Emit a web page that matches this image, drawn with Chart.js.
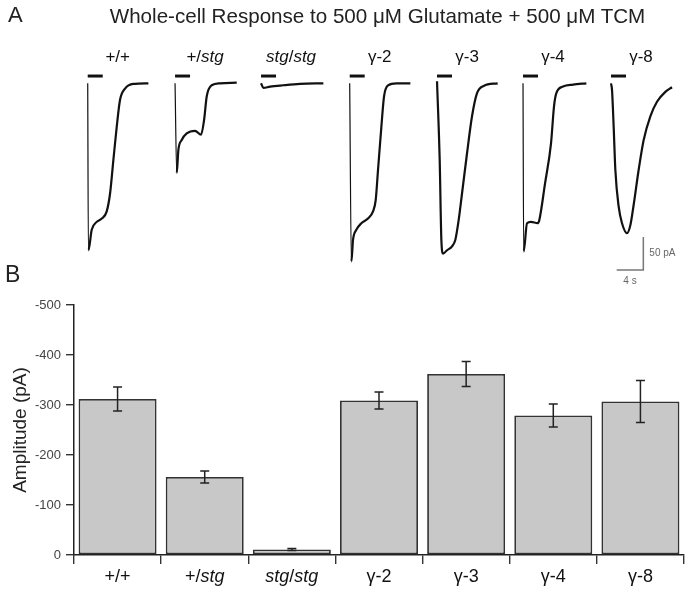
<!DOCTYPE html>
<html>
<head>
<meta charset="utf-8">
<script src="https://cdn.jsdelivr.net/npm/chart.js@4.4.1/dist/chart.umd.min.js"></script>
<style>
    body { margin: 0; background: #fff; }
    #wrap { position: relative; width: 693px; height: 593px; overflow: hidden; font-family: "Liberation Sans", Arial, sans-serif; color: #222; }
    #tracesChart { position: absolute; left: 0; top: 0; }
    #barChart { position: absolute; left: 0; top: 280px; }
    .panel { position: absolute; font-size: 22px; line-height: 22px; }
    #title { position: absolute; left: 0; top: 5px; width: 755px; text-align: center; font-size: 20.6px; line-height: 21px; white-space: nowrap; }
</style>
</head>
<body>
<div id="wrap">
    <canvas id="tracesChart" width="693" height="290"></canvas>
    <canvas id="barChart" width="693" height="313"></canvas>
    <div class="panel" style="left:8px; top:4px;">A</div>
    <div class="panel" style="left:5px; top:263px; font-size:23px; line-height:23px;">B</div>
    <div id="title">Whole-cell Response to 500 μM Glutamate + 500 μM TCM</div>
</div>
<script>
// Groups (same order in both panels)
const groups = ['+/+', '+/stg', 'stg/stg', 'γ-2', 'γ-3', 'γ-4', 'γ-8'];

// Panel B: mean amplitude (pA) and error
const amplitude = [-312, -156, -11, -309, -362, -279, -307];
const amplitudeErr = [24, 12, 2, 17, 25, 23, 42];

// Panel A: example traces, time (s) from onset and current (pA)
const traceOnsets = [0, 13.1, 26.0, 39.3, 52.4, 65.3, 78.5];
const traceTimes = [
    [0, 0.1, 0.6, 1.35, 2.1, 2.85, 3.35, 3.85, 4.35, 4.85, 5.6, 6.85, 9.1],
    [0, 0.25, 0.5, 1.0, 1.75, 3.0, 3.9, 4.35, 4.75, 5.5, 6.75, 9.25],
    [0, 0.35, 1.35, 3.35, 5.85, 9.35],
    [0, 0.25, 0.5, 1.0, 1.75, 2.75, 3.5, 3.9, 4.25, 4.75, 5.15, 5.75, 7.0, 9.1],
    [0, 0.4, 0.65, 0.9, 1.5, 2.25, 2.75, 3.25, 3.75, 4.5, 5.25, 6.0, 7.0, 9.1],
    [0, 0.1, 0.6, 1.2, 2.2, 2.45, 3.3, 4.2, 4.65, 5.0, 6.0, 7.5, 9.5],
    [0, 0.15, 0.4, 0.65, 1.15, 1.65, 2.4, 2.9, 3.4, 4.15, 4.9, 5.9, 6.9, 8.15, 9.15]
];
const traceCurrents = [
    [0, -253, -222, -210, -205, -194, -167, -116, -66, -25, -8, -1, 0],
    [0, -136, -101, -86, -76, -72, -78, -56, -20, -3, 0, 1],
    [0, -7, -5, -3, -1, 0],
    [0, -270, -237, -222, -212, -205, -194, -177, -131, -66, -20, -3, 0, 0],
    [3, -116, -237, -258, -253, -247, -237, -207, -167, -106, -50, -15, -4, 0],
    [0, -255, -212, -210, -212, -207, -152, -91, -35, -15, -5, -2, 0],
    [0, -10, -66, -131, -187, -212, -227, -215, -184, -131, -86, -50, -28, -13, -6]
];

// Drug application bar (s) and its level on the current axis (pA)
const puffLength = 2.25;
const puffLevel = 11;

// Scale bar: 4 s, 50 pA
const scaleBarTime = [79.35, 83.35];
const scaleBarCurrent = [-233, -283];

const FONT = '"Liberation Sans", Arial, sans-serif';

// draws a label with "stg" in italics, centred on x
function drawMixedLabel(ctx, text, x, y, size) {
    const parts = text.split(/(stg)/).filter(function(p) { return p.length > 0; });
    const fonts = parts.map(function(p) { return (p === 'stg' ? 'italic ' : '') + size + 'px ' + FONT; });
    let total = 0;
    parts.forEach(function(p, i) { ctx.font = fonts[i]; total += ctx.measureText(p).width; });
    let cx = x - total / 2;
    ctx.textAlign = 'left';
    ctx.textBaseline = 'alphabetic';
    parts.forEach(function(p, i) {
        ctx.font = fonts[i];
        ctx.fillText(p, cx, y);
        cx += ctx.measureText(p).width;
    });
}

// ---------- Panel A: traces ----------
const traceDatasets = traceTimes.map(function(times, i) {
    return {
        data: times.map(function(t, j) { return { x: traceOnsets[i] + t, y: traceCurrents[i][j] }; }),
        borderColor: '#111',
        borderWidth: 2.2,
        pointRadius: 0,
        cubicInterpolationMode: 'monotone',
        segment: {
            // very fast onsets are drawn as a thin stroke, like on a chart recorder
            borderWidth: function(ctx) {
                const slope = Math.abs(ctx.p1.parsed.y - ctx.p0.parsed.y) / (ctx.p1.parsed.x - ctx.p0.parsed.x);
                return slope > 500 ? 1.2 : 2.2;
            }
        }
    };
});

const puffDatasets = traceOnsets.map(function(t0) {
    return {
        data: [{ x: t0, y: puffLevel }, { x: t0 + puffLength, y: puffLevel }],
        borderColor: '#111',
        borderWidth: 3,
        pointRadius: 0
    };
});

const scaleBarDataset = {
    data: [
        { x: scaleBarTime[0], y: scaleBarCurrent[1] },
        { x: scaleBarTime[1], y: scaleBarCurrent[1] },
        { x: scaleBarTime[1], y: scaleBarCurrent[0] }
    ],
    borderColor: '#777',
    borderWidth: 1.5,
    pointRadius: 0,
    tension: 0
};

const traceLabelsPlugin = {
    id: 'traceLabels',
    afterDraw: function(chart) {
        const ctx = chart.ctx;
        const xs = chart.scales.x;
        const ys = chart.scales.y;
        ctx.save();
        ctx.fillStyle = '#111';
        groups.forEach(function(g, i) {
            drawMixedLabel(ctx, g, xs.getPixelForValue(traceOnsets[i] + 4.5), 62, 17);
        });
        // scale bar captions
        ctx.fillStyle = '#666';
        ctx.font = '10px ' + FONT;
        ctx.textBaseline = 'middle';
        ctx.textAlign = 'left';
        const bx = xs.getPixelForValue(scaleBarTime[1]);
        const by = (ys.getPixelForValue(scaleBarCurrent[0]) + ys.getPixelForValue(scaleBarCurrent[1])) / 2;
        ctx.fillText(scaleBarCurrent[0] - scaleBarCurrent[1] + ' pA', bx + 6, by);
        ctx.textAlign = 'center';
        const hx = (xs.getPixelForValue(scaleBarTime[0]) + bx) / 2;
        ctx.fillText((scaleBarTime[1] - scaleBarTime[0]) + ' s', hx, ys.getPixelForValue(scaleBarCurrent[1]) + 11);
        ctx.restore();
    }
};

new Chart(document.getElementById('tracesChart').getContext('2d'), {
    type: 'line',
    data: { datasets: traceDatasets.concat(puffDatasets, [scaleBarDataset]) },
    options: {
        responsive: false,
        animation: false,
        layout: { padding: 0 },
        plugins: { legend: { display: false }, tooltip: { enabled: false } },
        scales: {
            x: { type: 'linear', display: false, min: -13.16, max: 90.8 },
            y: { type: 'linear', display: false, min: -313.2, max: 126.2 }
        }
    },
    plugins: [traceLabelsPlugin]
});

// ---------- Panel B: bar chart ----------
const errorBarsPlugin = {
    id: 'errorBars',
    afterDatasetsDraw: function(chart) {
        const ctx = chart.ctx;
        const ys = chart.scales.y;
        const meta = chart.getDatasetMeta(0);
        ctx.save();
        ctx.strokeStyle = '#222';
        ctx.lineWidth = 1.5;
        meta.data.forEach(function(bar, i) {
            const y1 = ys.getPixelForValue(amplitude[i] - amplitudeErr[i]);
            const y2 = ys.getPixelForValue(amplitude[i] + amplitudeErr[i]);
            ctx.beginPath();
            ctx.moveTo(bar.x, y1); ctx.lineTo(bar.x, y2);
            ctx.moveTo(bar.x - 4.5, y1); ctx.lineTo(bar.x + 4.5, y1);
            ctx.moveTo(bar.x - 4.5, y2); ctx.lineTo(bar.x + 4.5, y2);
            ctx.stroke();
        });
        ctx.restore();
    },
    afterDraw: function(chart) {
        const ctx = chart.ctx;
        const xs = chart.scales.x;
        ctx.save();
        ctx.fillStyle = '#111';
        groups.forEach(function(g, i) {
            drawMixedLabel(ctx, g, xs.getPixelForValue(i), 301.7, 18);
        });
        ctx.restore();
    }
};

new Chart(document.getElementById('barChart').getContext('2d'), {
    type: 'bar',
    data: {
        labels: groups,
        datasets: [{
            data: amplitude,
            backgroundColor: '#c8c8c8',
            borderColor: '#333',
            borderWidth: 1.8,
            borderSkipped: false,
            barPercentage: 0.895,
            categoryPercentage: 1
        }]
    },
    options: {
        responsive: false,
        animation: false,
        layout: { padding: { top: 25, right: 9, left: 0, bottom: 0 } },
        plugins: { legend: { display: false }, tooltip: { enabled: false } },
        scales: {
            x: {
                grid: { offset: true, drawOnChartArea: false, color: '#333', lineWidth: 1.4, tickLength: 9 },
                border: { color: '#222', width: 1.5 },
                ticks: { display: false },
                afterFit: function(scale) { scale.height = 38; }
            },
            y: {
                reverse: true,
                min: -500,
                max: 0,
                ticks: { stepSize: 100, color: '#444', padding: 5, font: { family: FONT, size: 13 } },
                grid: { drawOnChartArea: false, color: '#333', lineWidth: 1.4, tickLength: 8 },
                border: { color: '#222', width: 1.5 },
                title: {
                    display: true,
                    text: 'Amplitude (pA)',
                    color: '#222',
                    font: { family: FONT, size: 19 },
                    padding: { top: 9, bottom: 0 }
                },
                afterFit: function(scale) { scale.width = 74; }
            }
        }
    },
    plugins: [errorBarsPlugin]
});
</script>
</body>
</html>
